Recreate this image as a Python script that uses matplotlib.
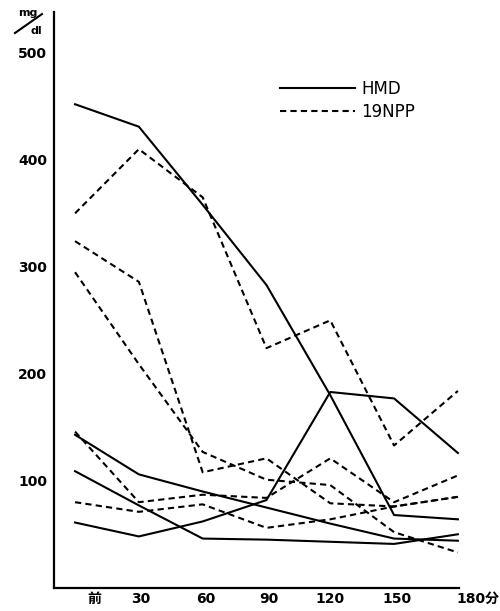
import matplotlib.pyplot as plt
from matplotlib.lines import Line2D
import numpy as np

plt.rcParams['font.family'] = ['DejaVu Sans', 'Noto Sans CJK JP']

times = ['前', '30', '60', '90', '120', '150', '180分']

# blood sugar (mg/dl), HMD group
hmd = [
    [452, 431, 358, 283, 180, 68, 64],
    [61, 48, 62, 82, 183, 177, 126],
    [143, 106, 90, 75, 60, 46, 44],
    [109, 77, 46, 45, 43, 41, 50],
]

# 19NPP group
npp = [
    [350, 410, 365, 224, 250, 133, 184],
    [324, 286, 108, 121, 79, 76, 85],
    [295, 209, 127, 101, 96, 52, 33],
    [146, 80, 87, 84, 121, 80, 105],
    [80, 71, 78, 56, 64, 76, 85],
]

yticks = [100, 200, 300, 400, 500]

fig = plt.figure(figsize=(5, 6.11), dpi=100)
ax = fig.add_axes([0.108, 0.038, 0.892, 0.942])

x = np.arange(len(times))
for i, y in enumerate(hmd):
    ax.plot(x, y, color='black', lw=1.5, ls='-',
            label='HMD' if i == 0 else None)
for i, y in enumerate(npp):
    ax.plot(x, y, color='black', lw=1.5, ls=(0, (3, 2)),
            label='19NPP' if i == 0 else None)

for s in ['top', 'right']:
    ax.spines[s].set_visible(False)
for s in ['left', 'bottom']:
    ax.spines[s].set_linewidth(1.6)
# x axis line stops at 180, the last label hangs past it
ax.spines['bottom'].set_bounds(-0.33, 6.02)

ax.set_yticks(yticks)
ax.set_yticklabels([str(v) for v in yticks], fontsize=10, fontweight='bold')
ax.tick_params(axis='y', length=0, pad=5)

# tick labels sit a little right of the data columns
label_shift = [0.3, 0.03, 0.05, 0.03, 0.0, 0.05, 0.32]
ax.set_xticks(x + np.array(label_shift))
ax.set_xticklabels(times, fontsize=10, fontweight='bold')
ax.tick_params(axis='x', length=0, pad=3)

ax.set_xlim(-0.33, 6.66)
ax.set_ylim(0, 538)

leg = ax.legend(loc='upper left', bbox_to_anchor=(0.472, 0.908), frameon=False,
                handlelength=4.5, handletextpad=0.4, labelspacing=0.3,
                prop={'size': 12})

# unit mark mg/dl above the axis
fig.text(0.056, 0.978, 'mg', fontsize=8, fontweight='bold', ha='center', va='center')
fig.text(0.072, 0.949, 'dl', fontsize=8, fontweight='bold', ha='center', va='center')
fig.add_artist(Line2D([0.030, 0.084], [0.946, 0.977], color='black', lw=1.5,
                      transform=fig.transFigure))

fig.savefig('out.png', dpi=100)
